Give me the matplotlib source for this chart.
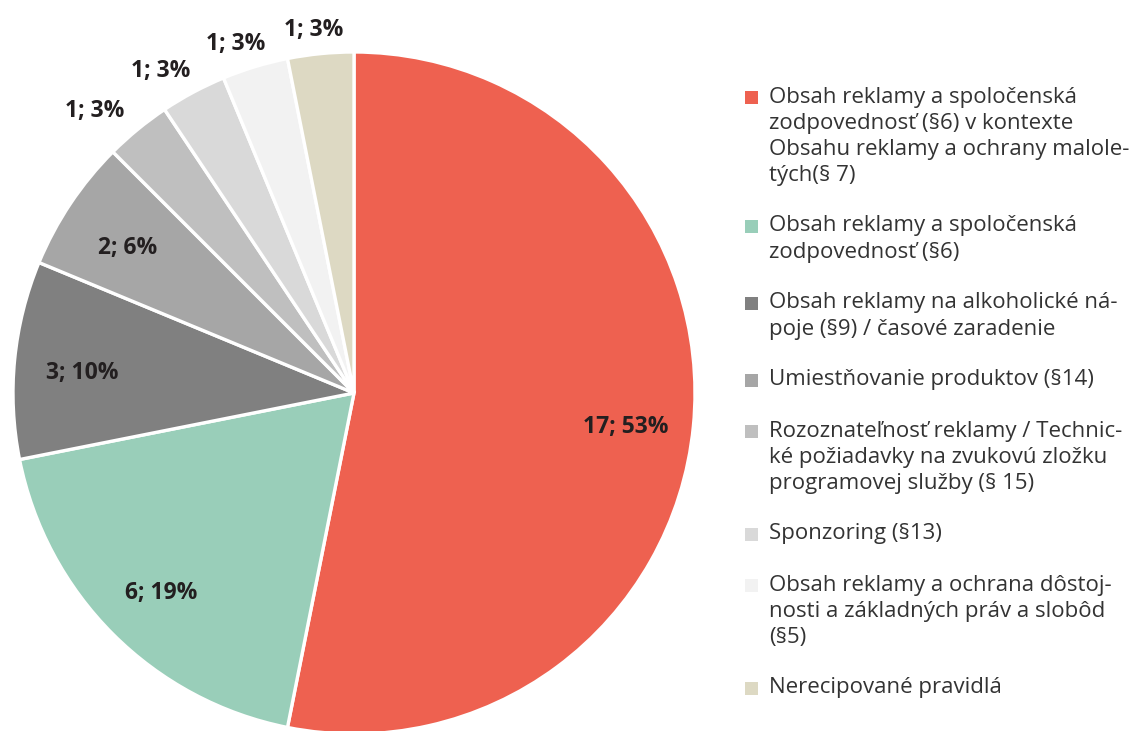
import matplotlib
matplotlib.use("Agg")
import matplotlib.pyplot as plt
import numpy as np
from matplotlib.patches import Rectangle

categories = [
    "Obsah reklamy a spoločenská\nzodpovednosť (§6) v kontexte\nObsahu reklamy a ochrany malole-\ntých(§ 7)",
    "Obsah reklamy a spoločenská\nzodpovednosť (§6)",
    "Obsah reklamy na alkoholické ná-\npoje (§9) / časové zaradenie",
    "Umiestňovanie produktov (§14)",
    "Rozoznateľnosť reklamy / Technic-\nké požiadavky na zvukovú zložku\nprogramovej služby (§ 15)",
    "Sponzoring (§13)",
    "Obsah reklamy a ochrana dôstoj-\nnosti a základných práv a slobôd\n(§5)",
    "Nerecipované pravidlá",
]
counts = [17, 6, 3, 2, 1, 1, 1, 1]
percents = [53, 19, 10, 6, 3, 3, 3, 3]
colors = ["#EE6150", "#99CEB9", "#808080", "#A6A6A6", "#BFBFBF",
          "#D9D9D9", "#F2F2F2", "#DDD9C3"]

W, H = 1137, 731
fig = plt.figure(figsize=(W / 100, H / 100), dpi=100)
fig.patch.set_facecolor("white")

cx, cy, r = 354, 393, 341
ax = fig.add_axes([(cx - r) / W, (H - cy - r) / H, 2 * r / W, 2 * r / H])
ax.axis("off")

wedges, _ = ax.pie(counts, colors=colors, startangle=90, counterclock=False,
                   radius=1, wedgeprops=dict(edgecolor="white", linewidth=2.4),
                   frame=False)
ax.set_xlim(-1, 1)
ax.set_ylim(-1, 1)

for w, c, p in zip(wedges, counts, percents):
    ang = np.deg2rad((w.theta1 + w.theta2) / 2)
    if c > 1:
        x, y = 0.8 * np.cos(ang), 0.8 * np.sin(ang) - 0.02
    else:
        x, y = 1.2 * np.cos(ang), 1.07 * np.sin(ang)
    ax.text(x, y, f"{c}; {p}%", ha="center", va="center", fontsize=16.5,
            fontweight="bold", family="Open Sans", color="#231F20",
            clip_on=False)

# legend
x_sq = 745
x_txt = 769
line_h = 26
gap = 25
y = 97
for cat, col in zip(categories, colors):
    fig.patches.append(Rectangle((x_sq / W, (H - y - 7) / H), 13 / W, 13 / H,
                                 transform=fig.transFigure, facecolor=col,
                                 edgecolor="none"))
    lines = cat.split("\n")
    for i, ln in enumerate(lines):
        fig.text(x_txt / W, (H - (y + i * line_h)) / H, ln, ha="left",
                 va="center", fontsize=16, family="Open Sans",
                 color="#333333")
    y += len(lines) * line_h + gap

fig.savefig("out.png", dpi=100, facecolor="white")
